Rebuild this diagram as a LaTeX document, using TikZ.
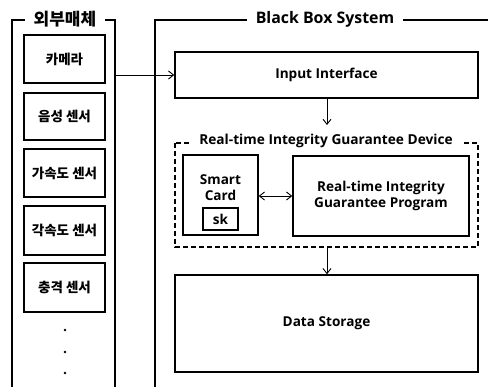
\documentclass[tikz,border=0pt]{standalone}
\usepackage{fontspec}
\usetikzlibrary{arrows.meta}
\setmainfont{Open Sans}
\newfontfamily\kr{Noto Sans CJK KR}
\begin{document}
\begin{tikzpicture}[x=1pt,y=-1pt,
  panel/.style={line width=2pt},
  box/.style={draw,line width=1.6pt,inner sep=0pt},
  lbl/.style={font=\bfseries\fontsize{13.6}{16}\selectfont,align=center},
  krl/.style={font=\kr\bfseries\fontsize{13.5}{15}\selectfont},
  ttl/.style={fill=white,inner ysep=2pt,inner xsep=9pt,font=\bfseries\fontsize{15.9}{18}\selectfont},
  arr/.style={-{Straight Barb[length=5pt,width=8pt]},line width=0.9pt},
  darr/.style={{Straight Barb[length=5pt,width=8pt]}-{Straight Barb[length=5pt,width=8pt]},line width=0.9pt}]
\useasboundingbox (0,0) rectangle (488,387);
% left panel
\draw[panel] (12,390) -- (12,20) -- (115,20) -- (115,390);
\node[ttl,font=\kr\bfseries\fontsize{17}{19}\selectfont] (ltitle) at (65,19) {외부매체};
% right panel
\draw[panel] (155,390) -- (155,20) -- (492,20);
\node[ttl] (rtitle) at (325,19) {Black Box System};
% left boxes
\node[box,minimum width=81pt,minimum height=48pt,krl] (cam) at (64.5,59) {카메라};
\node[box,minimum width=81pt,minimum height=47pt,krl] (voice) at (64.5,116.5) {음성 센서};
\node[box,minimum width=81pt,minimum height=48pt,krl] (acc) at (64.5,173) {가속도 센서};
\node[box,minimum width=81pt,minimum height=49pt,krl] (gyro) at (64.5,230.5) {각속도 센서};
\node[box,minimum width=81pt,minimum height=49pt,krl] (shock) at (64.5,287.5) {충격 센서};
\fill (65,330) circle (1.3pt) (65,352) circle (1.3pt) (65,373) circle (1.3pt);
\coordinate (lp) at (115,75);
% right boxes
\node[box,minimum width=303pt,minimum height=46pt,lbl] (inp) at (326.5,75) {Input Interface};
\draw[line width=1.8pt,dashed,dash pattern=on 5pt off 3pt] (175,143) rectangle (478,247);
\node[ttl,inner xsep=8pt,font=\bfseries\fontsize{13.7}{16}\selectfont] (dtitle) at (326,141) {Real-time Integrity Guarantee Device};
\coordinate (dtop) at (327,125);
\coordinate (dbot) at (327,247);
\node[box,minimum width=75pt,minimum height=80pt] (sc) at (220.5,195) {};
\node[lbl,font=\bfseries\fontsize{13.6}{16}\selectfont] (sctext) at (220.5,188) {Smart\\Card};
\node[box,minimum width=35pt,minimum height=22pt,lbl] (sk) at (220.5,219) {sk};
\node[box,minimum width=176pt,minimum height=80pt,lbl] (prog) at (381,196) {Real-time Integrity\\Guarantee Program};
\node[box,minimum width=303pt,minimum height=97pt,lbl] (ds) at (326.5,323.5) {Data Storage};
% connectors
\draw[arr] (lp) -- (inp.west);
\draw[arr] (inp.south -| dtop) -- (dtop);
\draw[darr] (sc.east |- 0,196) -- (prog.west |- 0,196);
\draw[arr] (dbot) -- (ds.north -| dbot);
\end{tikzpicture}
\end{document}
